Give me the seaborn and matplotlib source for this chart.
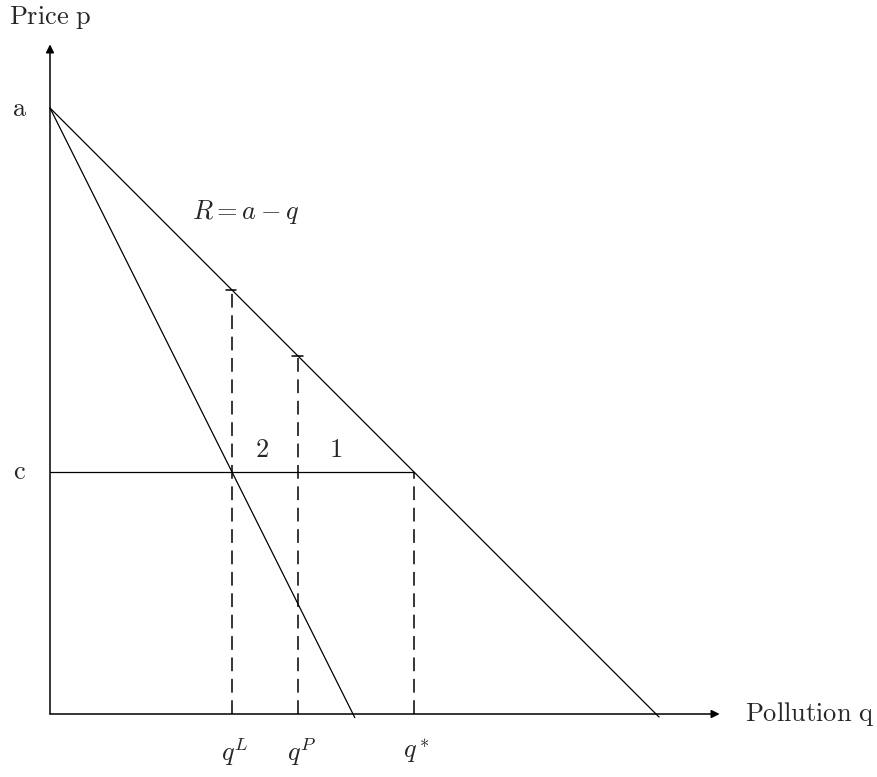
import numpy as np
import pandas as pd
import matplotlib
matplotlib.use('Agg')
import matplotlib.pyplot as plt
import seaborn as sns

# --- data (model units) ---
a_val = 10.0
c_val = 4.0
q_L = 3.0
q_P = 4.1
q_star = 6.0
axis_max = 11.0

q_R = [0.0, 10.05]          # R = a - q
p_R = [a_val - q for q in q_R]
q_MR = [0.0, 5.03]          # MR = a - 2q
p_MR = [a_val - 2 * q for q in q_MR]

drop_q = [q_L, q_P, q_star]
drop_top = [a_val - q_L, a_val - q_P, c_val]
drop_labels = [r'$q^L$', r'$q^P$', r'$q^*$']

sns.set_style('white')
plt.rcParams['mathtext.fontset'] = 'cm'
plt.rcParams['font.family'] = ['DejaVu Serif']

W, H = 878, 777
fig = plt.figure(figsize=(W / 100, H / 100), dpi=100)
px = 60.6
ox, oy = 50, 714
ax = fig.add_axes([ox / W, (H - oy) / H, axis_max * px / W, axis_max * px / H])
ax.set_xlim(0, axis_max)
ax.set_ylim(0, axis_max)
ax.axis('off')

lines = pd.DataFrame({
    'q': q_R + q_MR,
    'p': p_R + p_MR,
    'curve': ['R'] * 2 + ['MR'] * 2,
})
sns.lineplot(data=lines, x='q', y='p', units='curve', estimator=None,
             color='black', lw=0.9, ax=ax, sort=False, clip_on=False)

# price line c
ax.plot([0, q_star], [c_val, c_val], color='black', lw=0.9)

# dashed drop lines
for q, top in zip(drop_q, drop_top):
    ax.plot([q, q], [0, top], color='black', lw=1.1, ls=(0, (9, 5)))
for q, top in zip(drop_q[:2], drop_top[:2]):
    ax.plot([q - 0.1, q + 0.07], [top, top], color='black', lw=1.1)

# axes with arrows
ax.annotate('', xy=(11.05, 0), xytext=(0, 0),
            arrowprops=dict(arrowstyle='-|>', color='black', lw=1.1,
                            mutation_scale=12, shrinkA=0, shrinkB=0),
            annotation_clip=False)
ax.annotate('', xy=(0, 11.05), xytext=(0, 0),
            arrowprops=dict(arrowstyle='-|>', color='black', lw=1.1,
                            mutation_scale=12, shrinkA=0, shrinkB=0),
            annotation_clip=False)

fs = 19
ax.text(0.0, 11.5, r'$\mathrm{Price\ p}$', fontsize=fs, ha='center', va='center', clip_on=False)
ax.text(11.47, 0, r'$\mathrm{Pollution\ q}$', fontsize=fs, ha='left', va='center', clip_on=False)
ax.text(-0.5, a_val, r'$\mathrm{a}$', fontsize=fs, ha='center', va='center', clip_on=False)
ax.text(-0.5, c_val, r'$\mathrm{c}$', fontsize=fs, ha='center', va='center', clip_on=False)
ax.text(3.23, 8.28, r'$R = a - q$', fontsize=fs, ha='center', va='center')
ax.text(3.5, 4.37, r'$2$', fontsize=fs, ha='center', va='center')
ax.text(4.72, 4.37, r'$1$', fontsize=fs, ha='center', va='center')
for q, lab in zip(drop_q, drop_labels):
    ax.text(q + 0.05, -0.62, lab, fontsize=fs, ha='center', va='center', clip_on=False)

fig.savefig('out.png', dpi=100)
